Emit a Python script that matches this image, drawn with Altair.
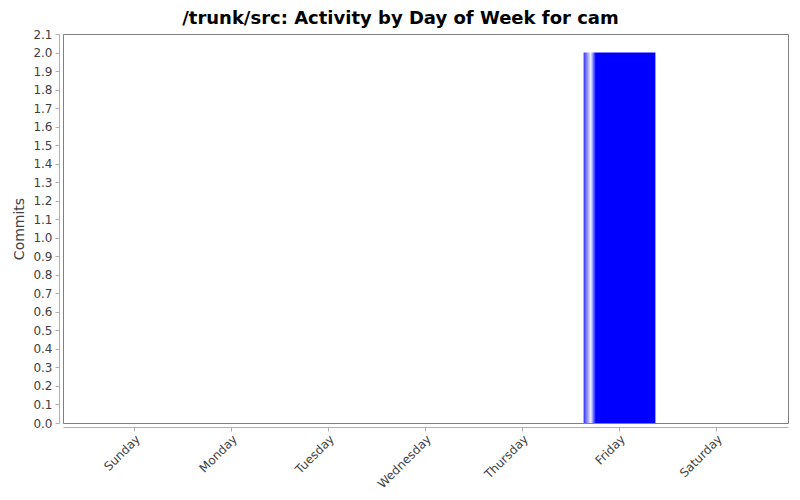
import altair as alt
import pandas as pd

days = ["Sunday", "Monday", "Tuesday", "Wednesday", "Thursday", "Friday", "Saturday"]
commits = [0, 0, 0, 0, 0, 2, 0]
y_ticks = [0.0, 0.1, 0.2, 0.3, 0.4, 0.5, 0.6, 0.7, 0.8, 0.9, 1.0,
           1.1, 1.2, 1.3, 1.4, 1.5, 1.6, 1.7, 1.8, 1.9, 2.0, 2.1]

df = pd.DataFrame({"day": days, "commits": commits})

grad = alt.Gradient(
    gradient="linear",
    x1=0, x2=1, y1=0, y2=0,
    stops=[
        alt.GradientStop(offset=0.0, color="#3030ff"),
        alt.GradientStop(offset=0.10, color="#f0f0ff"),
        alt.GradientStop(offset=0.17, color="#0000ff"),
        alt.GradientStop(offset=1.0, color="#0000ff"),
    ],
)

font = "DejaVu Sans"

chart = (
    alt.Chart(df)
    .mark_bar(color=grad)
    .encode(
        x=alt.X(
            "day:N",
            sort=days,
            scale=alt.Scale(paddingInner=0.26, paddingOuter=0.367),
            axis=alt.Axis(
                title=None,
                labelAngle=-45,
                labelAlign="right",
                labelBaseline="top",
                labelFont=font,
                labelFontSize=12,
                labelColor="#404040",
                domainColor="#b0b0b0",
                tickColor="#b0b0b0",
                tickSize=4,
                offset=4,
                labelPadding=2,
            ),
        ),
        y=alt.Y(
            "commits:Q",
            scale=alt.Scale(domain=[0, 2.1], nice=False, zero=True),
            axis=alt.Axis(
                title="Commits",
                values=y_ticks,
                format=".1f",
                grid=False,
                labelFont=font,
                labelFontSize=12,
                labelColor="#404040",
                titleFont=font,
                titleFontSize=14,
                titleFontWeight="normal",
                titleColor="#404040",
                domainColor="#b0b0b0",
                tickColor="#b0b0b0",
                tickSize=4,
                offset=4,
                labelPadding=3,
                titlePadding=6,
            ),
        ),
    )
    .properties(
        width=725,
        height=389,
        view=alt.ViewBackground(stroke="#808080", strokeWidth=1, fill="white"),
        title=alt.TitleParams(
            "/trunk/src: Activity by Day of Week for cam",
            font=font,
            fontSize=18,
            fontWeight="bold",
            color="#000000",
            anchor="middle",
            frame="bounds",
            offset=0,
        ),
        padding={"left": 55, "top": 26, "right": 4, "bottom": 69},
        autosize=alt.AutoSizeParams(type="none"),
    )
    .configure_view(stroke="#808080", strokeWidth=1)
    .configure(background="white")
)

chart.save("out.html", embed_options={"renderer": "svg", "actions": False})
